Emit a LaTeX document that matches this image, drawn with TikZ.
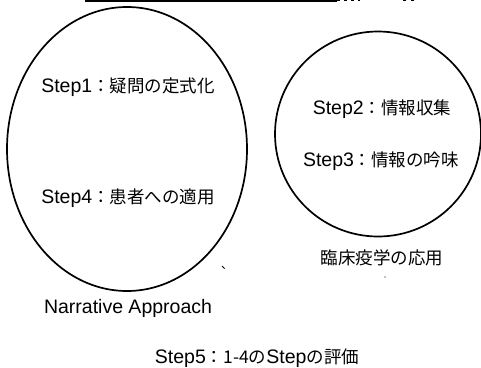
\documentclass[tikz,border=0pt]{standalone}
\usepackage{fontspec}
\setmainfont{Liberation Sans}
\newfontfamily\cjkfont{Noto Sans CJK JP}
\newcommand{\jp}[1]{{\fontsize{17.5}{20}\selectfont\cjkfont #1}}
\usetikzlibrary{shapes.geometric}
\tikzset{
  oval/.style={draw=black, line width=1.7pt, ellipse, inner sep=0pt},
  lbl/.style={inner sep=0pt, font=\fontsize{19.5}{22}\selectfont, text=black},
}
\begin{document}
\begin{tikzpicture}[x=1pt,y=-1pt]
\useasboundingbox (0,0) rectangle (481,367);
\fill[white] (0,0) rectangle (481,367);
% cut-off underline at the top
\coordinate (t1) at (85,0.8);
\coordinate (t2) at (337,0.8);
\draw[line width=1.5pt] (t1) -- (t2);
\draw[line width=1pt, dash pattern=on 3pt off 4pt] (337,0.8) -- (360,0.8);
\draw[line width=1pt] (403,0.8) -- (406,0.8) (411,0.8) -- (414,0.8);
% ellipses
\node[oval, minimum width=240pt, minimum height=284pt] (narr) at (127,149) {};
\node[oval, minimum width=206pt, minimum height=205pt] (epi) at (378,134) {};
% texts
\node[lbl] (s1) at (128,87) {Step1\jp{：疑問の定式化}};
\node[lbl] (s4) at (128,198) {Step4\jp{：患者への適用}};
\node[lbl] (na) at (128,308) {Narrative Approach};
\node[lbl] (s2) at (382,109) {Step2\jp{：情報収集}};
\node[lbl] (s3) at (381,161) {Step3\jp{：情報の吟味}};
\node[lbl] (ep) at (382,258) {\jp{臨床疫学の応用}};
\node[lbl] (s5) at (257,358) {Step5\jp{：1-4の}Step\jp{の評価}};
% small scan marks
\draw[line width=0.8pt] (222,266) -- (224.5,268.5);
\fill (385,277) circle (0.6pt);
\end{tikzpicture}
\end{document}
